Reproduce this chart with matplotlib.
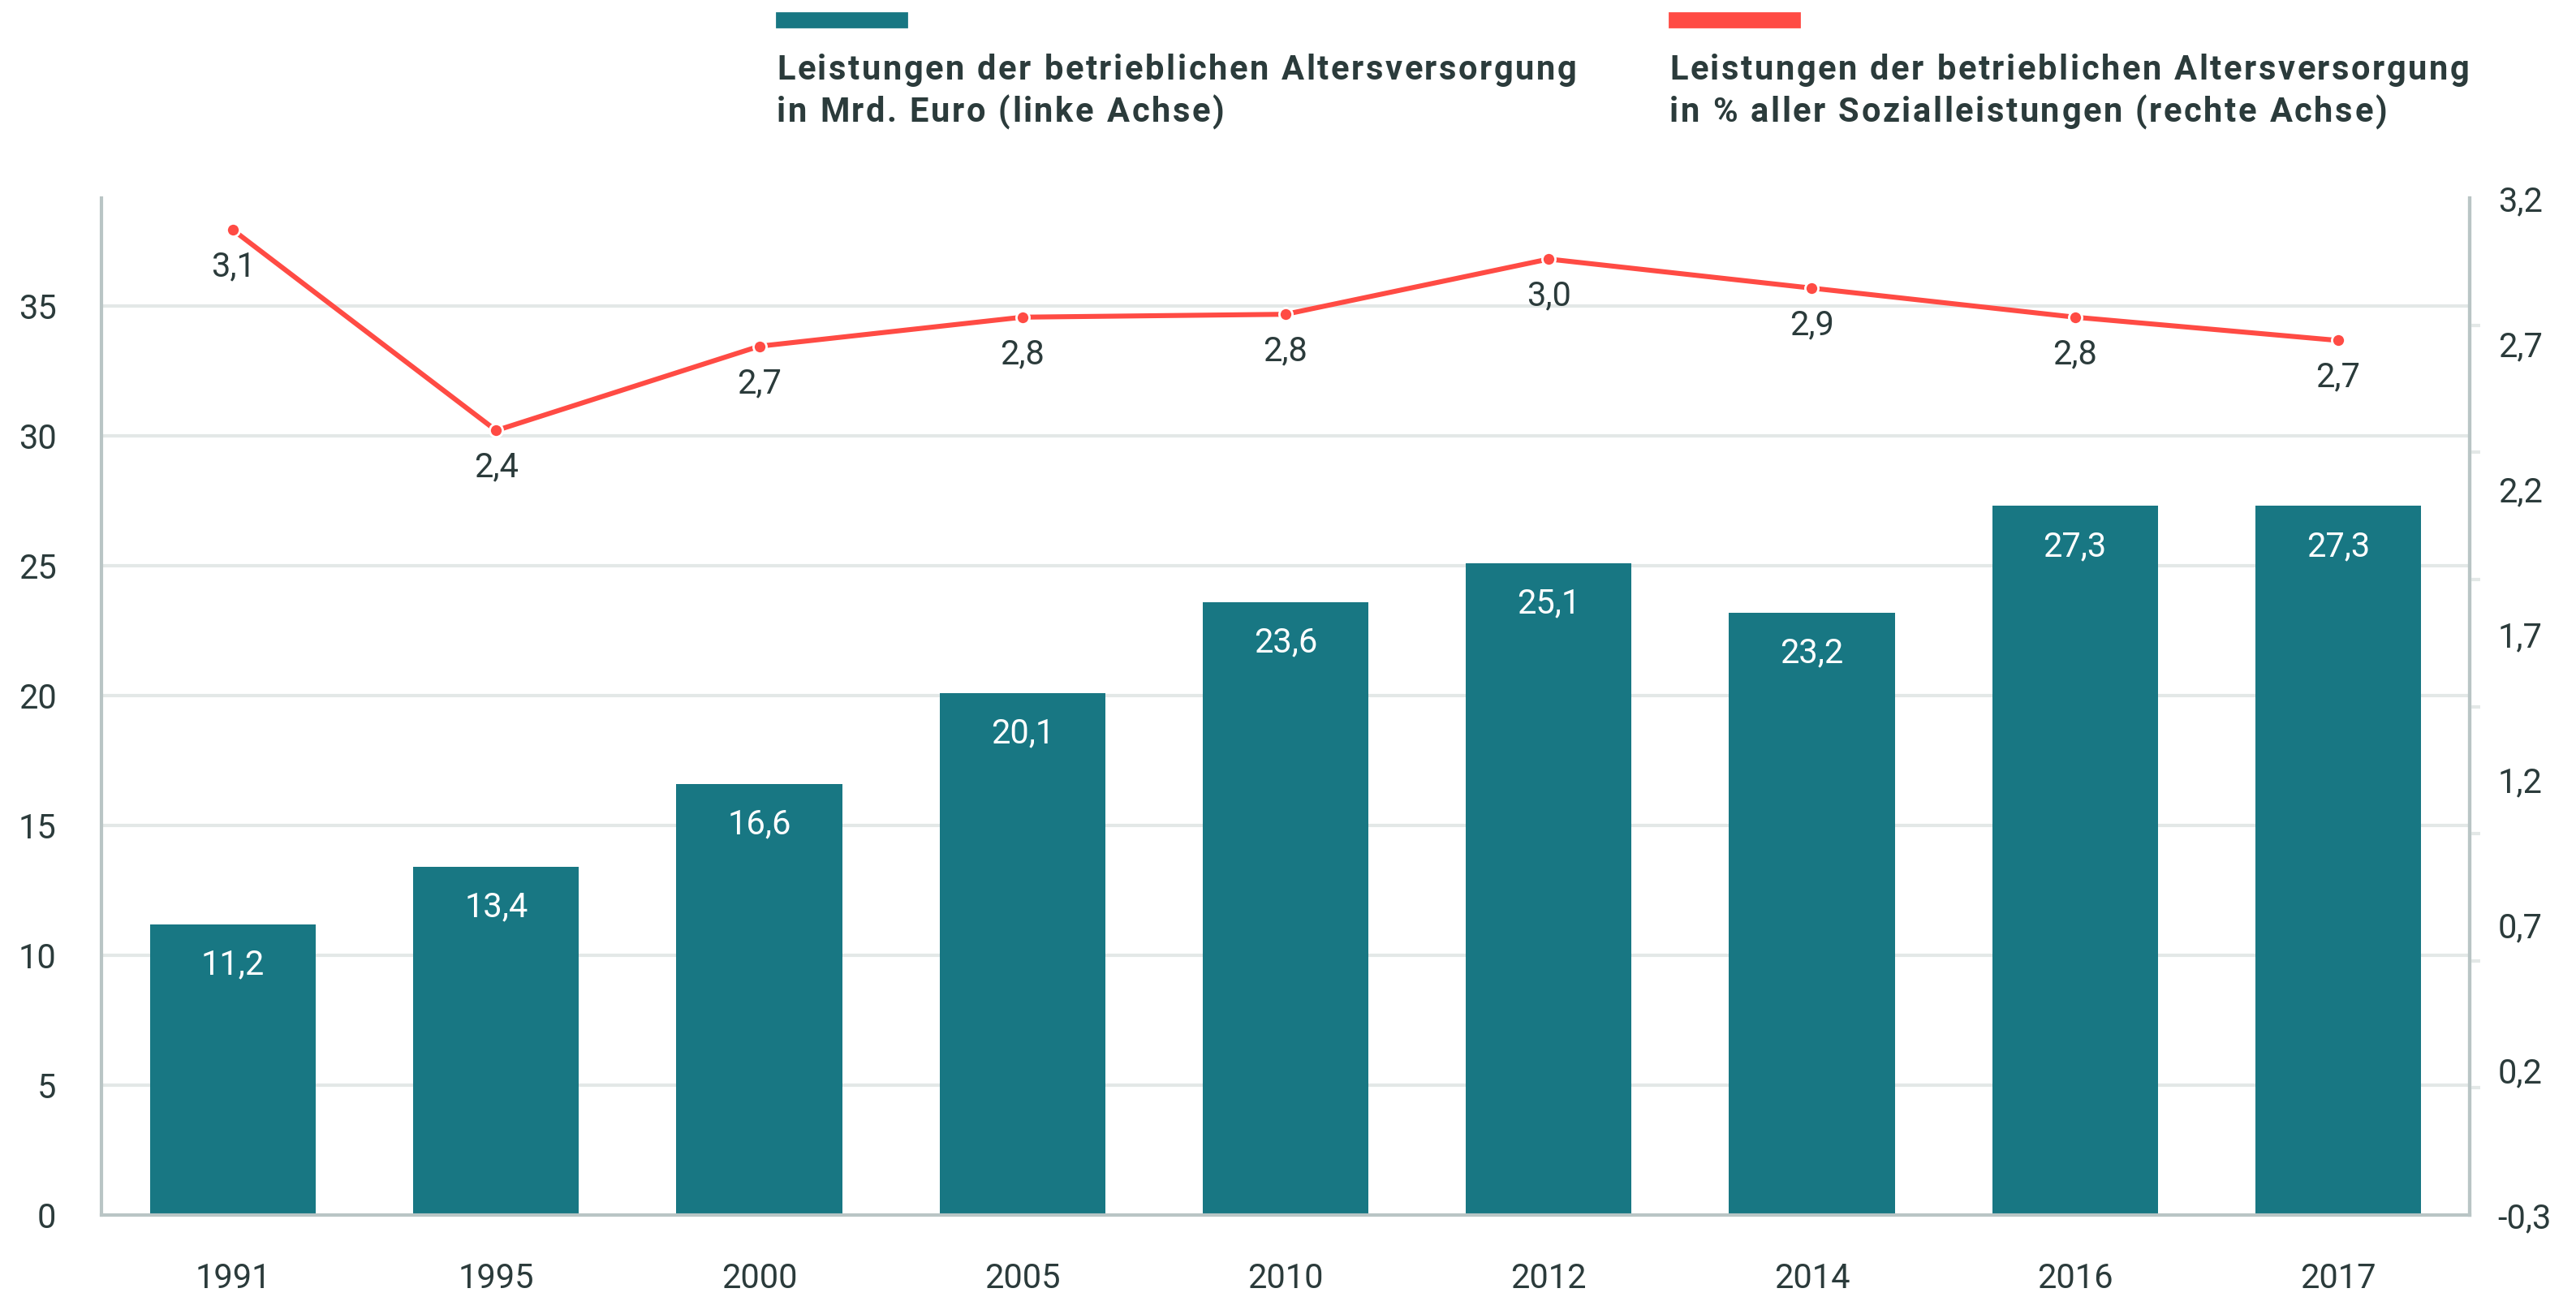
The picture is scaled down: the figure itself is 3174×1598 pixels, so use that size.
import numpy as np
import matplotlib
matplotlib.use("Agg")
import matplotlib.pyplot as plt

plt.rcParams['font.family'] = ['Roboto', 'DejaVu Sans']

# data
years = ['1991', '1995', '2000', '2005', '2010', '2012', '2014', '2016', '2017']
mrd_euro = [11.2, 13.4, 16.6, 20.1, 23.6, 25.1, 23.2, 27.3, 27.3]
pct_sozial = [3.09, 2.40, 2.69, 2.79, 2.80, 2.99, 2.89, 2.79, 2.71]

left_ticks = [0, 5, 10, 15, 20, 25, 30, 35]
right_ticks = [-0.3, 0.2, 0.7, 1.2, 1.7, 2.2, 2.7, 3.2]

legend_bar = 'Leistungen der betrieblichen Altersversorgung\nin Mrd. Euro (linke Achse)'
legend_line = 'Leistungen der betrieblichen Altersversorgung\nin % aller Sozialleistungen (rechte Achse)'

TEAL = '#187783'
RED = '#ff4b44'
TXT = '#2b3b3b'
GRID = '#e3e8e7'
AXIS = '#b9c5c5'

def de(v):
    return ('%.1f' % v).replace('.', ',')

W, H, DPI = 3174, 1598, 200
fig = plt.figure(figsize=(W / DPI, H / DPI), dpi=DPI)
ax = fig.add_axes([125 / W, 1 - 1497 / H, (3043 - 125) / W, (1497 - 244) / H])

x = np.arange(len(years))
ax.bar(x, mrd_euro, width=0.63, color=TEAL, zorder=2)
ax.set_xlim(-0.5, len(years) - 0.5)
ax.set_ylim(0, 39.16)
ax.set_yticks(left_ticks)
ax.set_yticklabels([str(t) for t in left_ticks])
ax.set_xticks(x)
ax.set_xticklabels(years)
ax.tick_params(axis='y', length=0, pad=20, labelsize=15, labelcolor=TXT)
ax.tick_params(axis='x', length=0, pad=21, labelsize=15, labelcolor=TXT)
ax.grid(axis='y', color=GRID, linewidth=1.5, zorder=0)
ax.set_axisbelow(True)
ax.spines['top'].set_visible(False)
for s in ['left', 'bottom', 'right']:
    ax.spines[s].set_color(AXIS)
    ax.spines[s].set_linewidth(1.5)

for xi, v in zip(x, mrd_euro):
    ax.annotate(de(v), (xi, v), xytext=(0, -18), textcoords='offset points',
                ha='center', va='center', color='white', fontsize=15, zorder=3)

ax2 = ax.twinx()
ax2.set_ylim(-0.3, 3.2)
ax2.set_yticks(right_ticks)
ax2.set_yticklabels([de(t) for t in right_ticks])
ax2.set_yticks(np.linspace(-0.3, 3.2, 9), minor=True)
ax2.tick_params(axis='y', which='major', length=0, pad=12.5, labelsize=15, labelcolor=TXT)
ax2.tick_params(axis='y', which='minor', length=4.7, width=1.5, color=GRID)
for s in ['top', 'left', 'bottom']:
    ax2.spines[s].set_visible(False)
ax2.spines['right'].set_color(AXIS)
ax2.spines['right'].set_linewidth(1.5)

ax2.plot(x, pct_sozial, color=RED, linewidth=2.2, marker='o', markersize=5.8,
         markerfacecolor=RED, markeredgecolor='white', markeredgewidth=1.0, zorder=4)
for xi, v in zip(x, pct_sozial):
    ax2.annotate(de(v), (xi, v), xytext=(0, -16.5), textcoords='offset points',
                 ha='center', va='center', color=TXT, fontsize=15, zorder=5)

# legend at top
fig.patches.append(plt.Rectangle((957 / W, 1 - 33 / H), 160 / W, 17 / H,
                                 transform=fig.transFigure, color=TEAL))
fig.patches.append(plt.Rectangle((2057 / W, 1 - 33 / H), 160 / W, 17 / H,
                                 transform=fig.transFigure, color=RED))

renderer = fig.canvas.get_renderer()

def spaced_text(x0, y0, s, track=2.6):
    # draw char by char to get the letter spacing of the original
    xp = x0
    for ch in s:
        t = fig.text(xp / W, 1 - y0 / H, ch, fontsize=15, fontweight='bold',
                     color=TXT, va='baseline', ha='left')
        if ch == ' ':
            w = 0.26 * 15 / 72 * DPI
        else:
            w = t.get_window_extent(renderer).width
        xp += w + track

for xpos, txt in [(957, legend_bar), (2057, legend_line)]:
    l1, l2 = txt.split('\n')
    spaced_text(xpos, 98, l1)
    spaced_text(xpos, 150, l2)

fig.savefig('out.png', dpi=DPI, facecolor='white')
